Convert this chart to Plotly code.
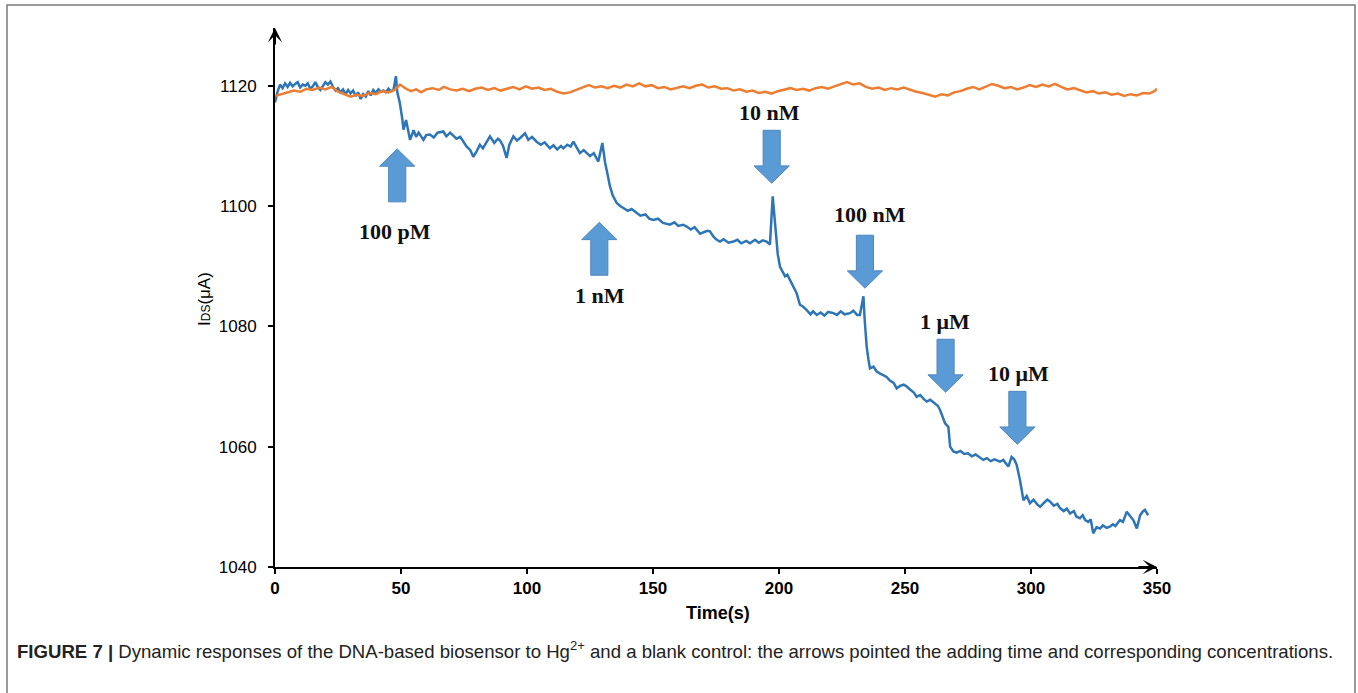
import plotly.graph_objects as go

# ---------------- data ----------------
blue_t = [0, 1, 2, 3, 4, 5, 6, 7, 8, 9, 10, 11, 12, 13, 14, 15, 16, 17, 18, 19, 20, 21, 22, 23, 24,
          25, 26, 27, 28, 29, 30, 31, 32, 33, 34, 35, 36, 37, 38, 39, 40, 41, 42, 43, 44, 45, 46, 47,
          48, 48.5, 49.5, 50.5, 51, 52, 53, 53.6, 55, 56, 57, 58.9, 60, 61.5, 63, 64.5, 66.8, 68, 69.5,
          70.8, 72, 73.5, 74.7, 76, 77.5, 78.7, 80, 81.3, 82.5, 84, 85.3, 87, 88.5, 89.3, 90.5, 91.9,
          93, 94.6, 96, 97.5, 99.2, 100.5, 102, 103.8, 105.5, 107, 109.1, 110.5, 112, 113.5, 114.4,
          116, 117.3, 118.4, 120, 121, 122.5, 124, 125, 126.5, 128.3, 129.9, 131, 132, 132.9, 134,
          135.6, 137, 138.2, 140, 141.5, 143.5, 145, 147, 148.5, 150.1, 152, 154, 156.7, 158.5, 160,
          162, 163.4, 165, 166.5, 168.7, 170, 171.5, 172.6, 174, 175.3, 176.6, 178, 180, 181.9, 183.5,
          185, 187, 188.5, 190.5, 192, 193.5, 195.1, 196.4, 197.5, 198.8, 199.5, 200.4, 201.5, 202.4,
          203.3, 204.4, 205.5, 207, 208.3, 209.5, 211, 212.5, 213.5, 215, 216.5, 218, 219.5, 221.6,
          223, 224.5, 226, 228.2, 229.5, 231, 232.1, 233.5, 234, 234.8, 235.5, 236.1, 237.5, 238.8,
          240, 241.5, 242.7, 244, 245.5, 246.7, 248, 249.5, 250.7, 252, 253.5, 254.6, 256, 257.5,
          258.6, 260, 261.9, 263, 263.9, 265, 265.9, 267.2, 267.9, 269.2, 270.5, 272, 273.5, 275,
          276.5, 278, 279.5, 281.1, 282.5, 284, 285.5, 287.7, 289, 290, 291, 292.3, 293.3, 294.3,
          295.6, 297, 298.3, 299.6, 301, 302.5, 303.6, 305, 306.5, 307.5, 309, 310.5, 311.5, 313,
          314.2, 315.5, 317, 318, 319.4, 320.5, 321.5, 322.7, 323.7, 324.7, 326, 327.4, 328.5, 330,
          331.3, 332.5, 333.5, 335.3, 336.5, 338, 339.2, 340.6, 342, 343.3, 344.3, 345.2, 346.5]
blue_v = [1117.2, 1119.0, 1120.2, 1119.6, 1120.4, 1119.8, 1120.5, 1119.9, 1120.3, 1120.6, 1119.7,
          1120.2, 1120.0, 1120.4, 1119.5, 1119.9, 1120.6, 1119.8, 1119.3, 1120.0, 1120.6, 1120.2,
          1120.7, 1119.8, 1119.2, 1119.6, 1118.9, 1119.4, 1118.6, 1119.3, 1118.7, 1119.2, 1118.3,
          1118.9, 1117.8, 1118.6, 1118.2, 1119.1, 1118.4, 1119.3, 1118.8, 1119.4, 1119.0, 1119.2,
          1118.9, 1119.5, 1119.1, 1119.3, 1121.6, 1119.0, 1117.2, 1114.5, 1112.7, 1114.3, 1112.0,
          1111.0, 1112.6, 1111.5, 1112.2, 1111.0, 1111.8, 1111.9, 1111.4, 1112.2, 1112.4, 1111.6,
          1112.2, 1111.6, 1111.2, 1111.5, 1110.7, 1109.9, 1109.3, 1108.2, 1109.1, 1110.2, 1109.6,
          1110.8, 1111.6, 1110.5, 1111.2, 1110.9, 1110.0, 1108.0, 1110.2, 1111.6, 1110.9, 1111.4,
          1112.1, 1111.0, 1111.5, 1110.7, 1110.2, 1110.6, 1109.6, 1110.1, 1109.4, 1110.0, 1109.6,
          1110.2, 1109.9, 1110.7, 1109.5, 1108.8, 1109.3, 1108.6, 1108.3, 1108.8, 1107.4, 1110.5,
          1107.2, 1105.2, 1103.3, 1101.8, 1100.5, 1100.0, 1099.7, 1099.2, 1099.5, 1098.8, 1098.4,
          1098.6, 1097.9, 1097.7, 1097.9, 1097.2, 1096.9, 1097.3, 1096.7, 1096.9, 1096.6, 1096.1,
          1096.5, 1095.4, 1095.6, 1095.9, 1095.8, 1094.9, 1094.4, 1094.1, 1094.5, 1093.9, 1094.1,
          1094.4, 1093.8, 1094.2, 1093.8, 1094.4, 1093.9, 1094.3, 1094.1, 1093.6, 1101.6, 1094.9,
          1092.0, 1089.9, 1089.0, 1088.3, 1088.6, 1087.7, 1087.0, 1085.5, 1083.6, 1083.3, 1082.7,
          1082.0, 1082.5, 1081.9, 1082.3, 1081.8, 1082.4, 1082.2, 1081.9, 1082.5, 1082.0, 1082.2,
          1082.6, 1081.9, 1081.9, 1085.0, 1081.1, 1076.6, 1074.5, 1073.0, 1073.3, 1072.5, 1072.2,
          1071.8, 1071.6, 1071.0, 1070.6, 1069.7, 1070.1, 1070.3, 1070.0, 1069.5, 1069.0, 1068.3,
          1068.6, 1067.9, 1067.5, 1067.8, 1067.2, 1066.8, 1066.1, 1065.0, 1063.9, 1063.3, 1060.0,
          1059.2, 1059.0, 1059.3, 1058.8, 1058.9, 1058.4, 1058.7, 1058.2, 1057.8, 1058.1, 1057.6,
          1057.9, 1057.5, 1057.8, 1057.2, 1056.7, 1058.3, 1057.9, 1057.0, 1054.5, 1051.1, 1051.8,
          1050.6, 1051.2, 1050.4, 1050.0, 1050.6, 1051.2, 1050.9, 1050.2, 1050.5, 1049.8, 1049.3,
          1049.7, 1048.9, 1049.3, 1048.4, 1048.1, 1048.6, 1047.8, 1047.5, 1047.9, 1045.6, 1046.6,
          1046.4, 1046.9, 1046.5, 1046.7, 1047.1, 1046.8, 1047.8, 1047.5, 1049.2, 1048.6, 1047.8,
          1046.4, 1048.6, 1049.2, 1049.5, 1048.6]

orange_t = [0, 2.5, 5, 7.5, 10, 12.5, 15, 17.5, 20, 22.5, 25, 27.5, 30, 32.5, 35, 37.5, 40, 42.5,
            45, 47.5, 49.6, 52, 54, 56, 58, 60, 62.5, 65, 67, 69.5, 72, 74.5, 77, 79.5, 82, 84.5,
            87, 89.5, 92, 94.5, 97, 99.5, 102, 104.5, 107, 109.5, 112, 114.5, 117, 119.5, 122,
            124.5, 127, 129.5, 132, 134.5, 137, 139.5, 142, 144.5, 147, 149.5, 152, 154.5, 157,
            159.5, 162, 164.5, 167, 169.5, 172, 174.5, 177, 179.5, 182, 184.5, 187, 189.5, 192,
            194.5, 197, 199.5, 202, 204.5, 207, 209.5, 212, 214.5, 217, 219.5, 222, 224.5, 227,
            229.5, 232, 234.5, 237, 239.5, 242, 244.5, 247, 249.5, 252, 254.5, 257, 259.5, 262,
            264.5, 267, 269.5, 272, 274.5, 277, 279.5, 282, 284.5, 287, 289.5, 292, 294.5, 297,
            299.5, 302, 304.5, 307, 309.5, 312, 314.5, 317, 319.5, 322, 324.5, 327, 329.5, 332,
            334.5, 337, 339.5, 342, 344.5, 347, 349, 350]
orange_v = [1118.3, 1118.6, 1118.9, 1119.2, 1119.0, 1119.5, 1119.3, 1119.7, 1119.4, 1119.8,
            1119.0, 1118.6, 1118.2, 1118.5, 1118.3, 1118.8, 1118.6, 1119.1, 1118.9, 1119.3,
            1120.2, 1119.5, 1119.1, 1119.4, 1118.9, 1119.4, 1119.6, 1119.3, 1119.8, 1119.4,
            1119.2, 1119.5, 1119.1, 1119.5, 1119.7, 1119.3, 1119.6, 1119.2, 1119.5, 1119.8,
            1119.4, 1119.9, 1119.5, 1119.7, 1119.3, 1119.5, 1119.0, 1118.7, 1118.9, 1119.3,
            1119.6, 1120.1, 1119.7, 1119.9, 1119.6, 1120.0, 1119.7, 1120.2, 1119.9, 1120.4,
            1119.9, 1120.1, 1119.6, 1119.8, 1119.4, 1119.7, 1119.9, 1119.6, 1120.0, 1120.2,
            1119.7, 1119.9, 1119.5, 1119.6, 1119.2, 1119.4, 1119.0, 1119.2, 1118.8, 1119.0,
            1118.7, 1119.1, 1119.3, 1119.6, 1119.3, 1119.5, 1119.2, 1119.6, 1119.8, 1119.5,
            1119.9, 1120.3, 1120.6, 1120.2, 1120.4, 1119.8, 1119.5, 1119.7, 1119.3, 1119.6,
            1119.4, 1119.7, 1119.3, 1119.0, 1118.8, 1118.5, 1118.2, 1118.6, 1118.4, 1118.9,
            1119.1, 1119.5, 1119.8, 1119.4, 1119.9, 1120.3, 1120.0, 1119.6, 1119.8, 1119.4,
            1119.7, 1120.1, 1119.8, 1120.2, 1119.9, 1120.3, 1119.8, 1119.4, 1119.6, 1119.2,
            1118.9, 1119.1, 1118.7, 1118.9, 1118.5, 1118.7, 1118.3, 1118.6, 1118.4, 1118.8,
            1118.7, 1119.1, 1119.5]

# concentration markers (arrow tips and label centres, in data units)
dose_labels = ["100 pM", "1 nM", "10 nM", "100 nM", "1 \u03bcM", "10 \u03bcM"]
dose_tip_t = [48.5, 128.7, 197.1, 234.1, 266.1, 294.6]
dose_tip_v = [1109.5, 1097.3, 1103.8, 1086.35, 1069.06, 1060.4]
dose_dir = ["up", "up", "down", "down", "down", "down"]
dose_label_t = [47.6, 129.0, 196.4, 236.1, 265.9, 295.0]
dose_label_v = [1095.8, 1085.2, 1115.5, 1098.6, 1080.8, 1072.1]

x_ticks = [0, 50, 100, 150, 200, 250, 300, 350]
y_ticks = [1040, 1060, 1080, 1100, 1120]
x_range = [0, 350]
y_range = [1040, 1129.6]

caption = ("<b>FIGURE 7 |</b> Dynamic responses of the DNA-based biosensor to Hg<sup>2+</sup> "
           "and a blank control: the arrows pointed the adding time and corresponding concentrations.")

# ---------------- figure ----------------
W, H = 1358, 693
ML, MR, MT, MB = 275, 201, 28, 126
pw, ph = W - ML - MR, H - MT - MB


def px_to_paper_x(px):
    return (px - ML) / pw


def py_to_paper_y(py):
    return (H - MB - py) / ph


fig = go.Figure()
fig.add_trace(go.Scatter(x=blue_t, y=blue_v, mode="lines",
                         line=dict(color="#2E75B6", width=2.5), showlegend=False))
fig.add_trace(go.Scatter(x=orange_t, y=orange_v, mode="lines",
                         line=dict(color="#ED7D31", width=2.5), showlegend=False))

# block arrows
HW, SW = 7.0, 3.4      # half widths (s)
HL, AL = 2.88, 8.8     # head length and total length (uA)
shapes = []
for t0, v0, d in zip(dose_tip_t, dose_tip_v, dose_dir):
    s = -1 if d == "up" else 1
    pts = [(t0, v0), (t0 + HW, v0 + s * HL), (t0 + SW, v0 + s * HL), (t0 + SW, v0 + s * AL),
           (t0 - SW, v0 + s * AL), (t0 - SW, v0 + s * HL), (t0 - HW, v0 + s * HL)]
    path = "M " + " L ".join(f"{a},{b}" for a, b in pts) + " Z"
    shapes.append(dict(type="path", path=path, xref="x", yref="y",
                       fillcolor="#5B9BD5", line=dict(color="#4F86BF", width=1), layer="above"))

# figure frame
shapes.append(dict(type="rect", xref="paper", yref="paper",
                   x0=px_to_paper_x(7), x1=px_to_paper_x(1355),
                   y0=py_to_paper_y(710), y1=py_to_paper_y(5),
                   line=dict(color="#7a7a7a", width=1.5), fillcolor="rgba(0,0,0,0)", layer="below"))

annotations = []
for lab, lt, lv in zip(dose_labels, dose_label_t, dose_label_v):
    annotations.append(dict(x=lt, y=lv, xref="x", yref="y", text=f"<b>{lab}</b>", showarrow=False,
                            xanchor="center", yanchor="middle",
                            font=dict(family="Liberation Serif, Times New Roman, serif", size=22,
                                      color="#111111")))

# axis arrow heads
annotations.append(dict(x=x_range[1], y=y_range[0], ax=x_range[1] - 8, ay=y_range[0],
                        xref="x", yref="y", axref="x", ayref="y", text="", showarrow=True,
                        arrowhead=3, arrowsize=1.2, arrowwidth=2, arrowcolor="black"))
annotations.append(dict(x=x_range[0], y=y_range[1], ax=x_range[0], ay=y_range[1] - 3,
                        xref="x", yref="y", axref="x", ayref="y", text="", showarrow=True,
                        arrowhead=3, arrowsize=1.2, arrowwidth=2, arrowcolor="black"))

# axis titles
annotations.append(dict(x=px_to_paper_x(718), y=py_to_paper_y(613), xref="paper", yref="paper",
                        xanchor="center", yanchor="middle",
                        text="<b>Time(s)</b>", showarrow=False,
                        font=dict(family="Liberation Sans, Arial", size=18, color="black")))
annotations.append(dict(x=px_to_paper_x(204), y=py_to_paper_y(299), xref="paper", yref="paper",
                        xanchor="center", yanchor="middle",
                        text="I<span style='font-size:12px'>DS</span>(\u03bcA)", textangle=-90,
                        showarrow=False,
                        font=dict(family="Liberation Sans, Arial", size=17, color="black")))

# caption
annotations.append(dict(x=px_to_paper_x(15), y=py_to_paper_y(650), xref="paper", yref="paper",
                        xanchor="left", yanchor="middle", text=caption, showarrow=False,
                        font=dict(family="Liberation Sans, Arial", size=18.6, color="#222222")))

fig.update_layout(
    width=W, height=H,
    margin=dict(l=ML, r=MR, t=MT, b=MB, pad=0),
    paper_bgcolor="white", plot_bgcolor="white",
    shapes=shapes, annotations=annotations,
    showlegend=False,
    xaxis=dict(range=x_range, tickvals=x_ticks, ticktext=[f"<b>{v}</b>" for v in x_ticks],
               showgrid=False, zeroline=False, showline=True, linecolor="black", linewidth=2,
               ticks="outside", ticklen=5, tickwidth=2, tickcolor="black",
               tickfont=dict(family="Liberation Sans, Arial", size=17, color="black")),
    yaxis=dict(range=y_range, tickvals=y_ticks, showgrid=False, zeroline=False, showline=True,
               linecolor="black", linewidth=2, ticks="outside", ticklen=5, tickwidth=2,
               tickcolor="black", ticklabelstandoff=8,
               tickfont=dict(family="Liberation Sans, Arial", size=17, color="black")),
)

fig.write_html("out.html", config={"displayModeBar": False},
               post_script="document.body.style.margin='0px';")
